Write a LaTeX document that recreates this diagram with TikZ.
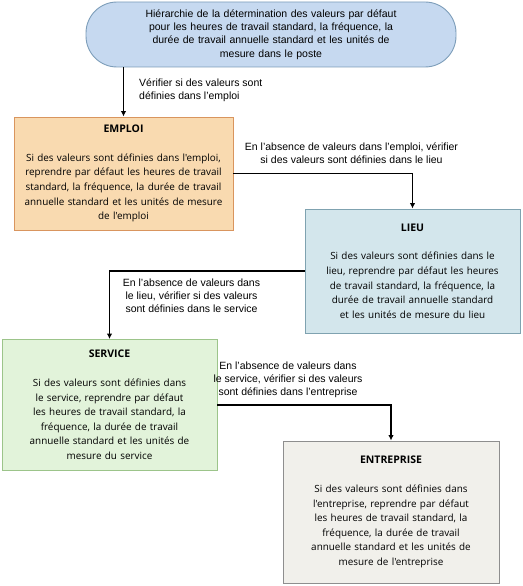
\documentclass[tikz,border=0pt]{standalone}
\usepackage{fontspec}
\setmainfont{Liberation Sans}
\newfontfamily\boxfont{Open Sans}
\usetikzlibrary{arrows.meta}

\definecolor{pillfill}{HTML}{C6D9F0}
\definecolor{pillline}{HTML}{7C9DB9}
\definecolor{empfill}{HTML}{F9DAB0}
\definecolor{empline}{HTML}{D9955E}
\definecolor{lieufill}{HTML}{D3E6EC}
\definecolor{lieuline}{HTML}{7FA2B0}
\definecolor{servfill}{HTML}{E2F3DA}
\definecolor{servline}{HTML}{9CC48A}
\definecolor{entfill}{HTML}{F1F0EB}
\definecolor{entline}{HTML}{8E8E8E}

\newcommand{\levelname}[1]{{\fontsize{10.5}{14.5}\selectfont\textbf{#1}}}

\tikzset{
  levelbox/.style={draw, line width=0.9pt, align=center, inner sep=3pt,
    font=\boxfont\fontsize{9.9}{14.6}\selectfont},
  linklabel/.style={font=\fontsize{10.5}{12.8}\selectfont, inner sep=0pt},
  link/.style={line width=1.1pt, -{Latex[length=5.5pt,width=5.5pt]}}
}

\begin{document}
\begin{tikzpicture}[x=1pt,y=-1pt]
\useasboundingbox (0,0) rectangle (522,586);
% start of the hierarchy
\node[draw=pillline, fill=pillfill, line width=0.9pt, rounded corners=31pt,
  minimum width=370pt, minimum height=65pt, text width=300pt, align=center,
  font=\fontsize{10.5}{13.3}\selectfont] (poste) at (271,34.5)
  {Hiérarchie de la détermination des valeurs par défaut\\pour les heures de travail standard, la fréquence, la\\durée de travail annuelle standard et les unités de\\mesure dans le poste};

% the four levels
\node[levelbox, draw=empline, fill=empfill, minimum width=219pt, minimum height=113pt,
  text width=212pt] (emploi) at (123.5,173.5)
  {\levelname{EMPLOI}\\[14pt]Si des valeurs sont définies dans l'emploi,\\reprendre par défaut les heures de travail\\standard, la fréquence, la durée de travail\\annuelle standard et les unités de mesure\\de l'emploi};
\node[levelbox, draw=lieuline, fill=lieufill, minimum width=215pt, minimum height=124pt,
  text width=205pt] (lieu) at (412.5,271)
  {\levelname{LIEU}\\[14pt]Si des valeurs sont définies dans le\\lieu, reprendre par défaut les heures\\de travail standard, la fréquence, la\\durée de travail annuelle standard\\et les unités de mesure du lieu};
\node[levelbox, draw=servline, fill=servfill, minimum width=215pt, minimum height=131pt,
  text width=205pt] (service) at (109.5,405)
  {\levelname{SERVICE}\\[14pt]Si des valeurs sont définies dans\\le service, reprendre par défaut\\les heures de travail standard, la\\fréquence, la durée de travail\\annuelle standard et les unités de\\mesure du service};
\node[levelbox, draw=entline, fill=entfill, minimum width=216pt, minimum height=142pt,
  text width=205pt] (entreprise) at (391,512)
  {\levelname{ENTREPRISE}\\[14pt]Si des valeurs sont définies dans\\l'entreprise, reprendre par défaut\\les heures de travail standard, la\\fréquence, la durée de travail\\annuelle standard et les unités de\\mesure de l'entreprise};

% labels on the links
\node[linklabel, anchor=west, align=left] (lab1) at (139,90)
  {Vérifier si des valeurs sont\\définies dans l'emploi};
\node[linklabel, align=center] (lab2) at (351.5,153)
  {En l'absence de valeurs dans l'emploi, vérifier\\si des valeurs sont définies dans le lieu};
\node[linklabel, align=center] (lab3) at (191.5,296)
  {En l'absence de valeurs dans\\le lieu, vérifier si des valeurs\\sont définies dans le service};
\node[linklabel, align=center] (lab4) at (288,380)
  {En l'absence de valeurs dans\\le service, vérifier si des valeurs\\sont définies dans l'entreprise};

% links
\draw[link] (emploi.north |- poste.south) -- (emploi.north);
\draw[link] (emploi.east) -| (lieu.north);
\draw[link] (lieu.west) -| (service.north);
\draw[link] (service.east) -| (entreprise.north);
\end{tikzpicture}
\end{document}
